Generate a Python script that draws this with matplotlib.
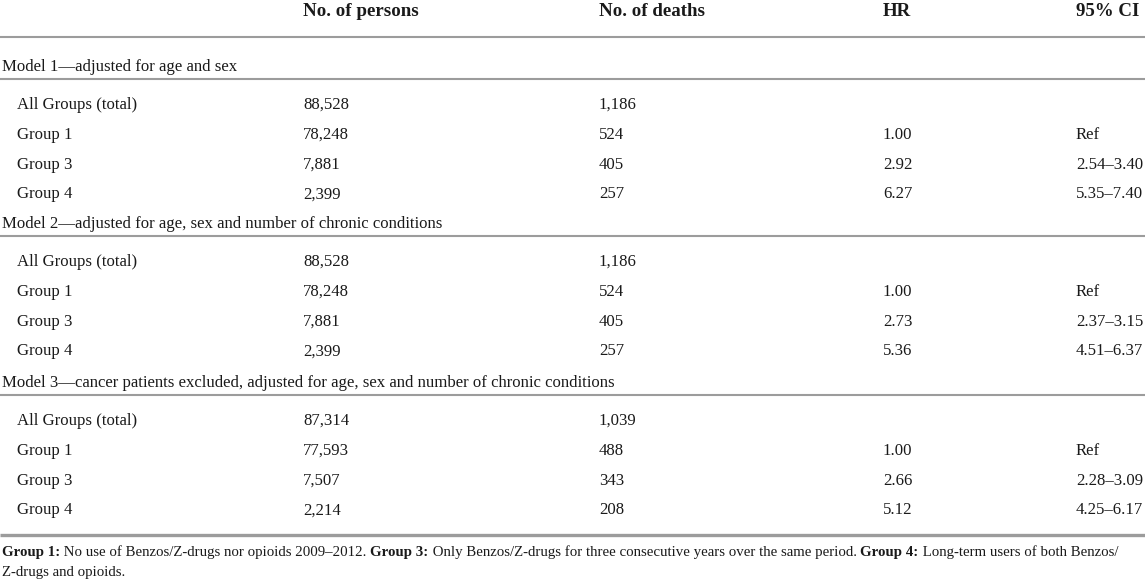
import matplotlib
matplotlib.use("Agg")
import matplotlib.pyplot as plt

# ---- data ----
columns = ["No. of persons", "No. of deaths", "HR", "95% CI"]
model_titles = [
    "Model 1\u2014adjusted for age and sex",
    "Model 2\u2014adjusted for age, sex and number of chronic conditions",
    "Model 3\u2014cancer patients excluded, adjusted for age, sex and number of chronic conditions",
]
row_labels = ["All Groups (total)", "Group 1", "Group 3", "Group 4"]
persons = [
    ["88,528", "78,248", "7,881", "2,399"],
    ["88,528", "78,248", "7,881", "2,399"],
    ["87,314", "77,593", "7,507", "2,214"],
]
deaths = [
    ["1,186", "524", "405", "257"],
    ["1,186", "524", "405", "257"],
    ["1,039", "488", "343", "208"],
]
hr = [
    ["", "1.00", "2.92", "6.27"],
    ["", "1.00", "2.73", "5.36"],
    ["", "1.00", "2.66", "5.12"],
]
ci = [
    ["", "Ref", "2.54\u20133.40", "5.35\u20137.40"],
    ["", "Ref", "2.37\u20133.15", "4.51\u20136.37"],
    ["", "Ref", "2.28\u20133.09", "4.25\u20136.17"],
]
footnote_parts = [
    ("Group 1:", True), (" No use of Benzos/Z-drugs nor opioids 2009\u20132012. ", False),
    ("Group 3:", True), (" Only Benzos/Z-drugs for three consecutive years over the same period. ", False),
    ("Group 4:", True), (" Long-term users of both Benzos/", False),
]
footnote_line2 = "Z-drugs and opioids."

# ---- layout ----
W, H = 1145, 582
fig = plt.figure(figsize=(W / 100, H / 100), dpi=100)
ax = fig.add_axes([0, 0, 1, 1])
ax.set_xlim(0, W)
ax.set_ylim(H, 0)
ax.axis("off")

FAM = ["Liberation Serif", "DejaVu Serif"]
FS = 12.1
HFS = 13.6
col_x = [303, 599, 883, 1076]
line_color = "#9c9c9c"
txt_color = "#1a1a1a"

# header
for x, c in zip(col_x, columns):
    ax.text(x, 16, c, fontsize=HFS, fontweight="bold", family=FAM,
            va="baseline", ha="left", color=txt_color)

def hline(y, lw=1.5):
    ax.plot([0, W], [y, y], color=line_color, lw=lw, solid_capstyle="butt")

hline(37)

title_base = [71.0, 228.5, 387.0]
title_line_y = [79, 236, 395]
row_step = 29.8

for m in range(3):
    ax.text(2, title_base[m], model_titles[m], fontsize=FS, family=FAM,
            va="baseline", ha="left", color=txt_color)
    hline(title_line_y[m])
    for r, lab in enumerate(row_labels):
        y = title_line_y[m] + 30 + r * row_step
        ax.text(17, y, lab, fontsize=FS, family=FAM, va="baseline", ha="left", color=txt_color)
        vals = [persons[m][r], deaths[m][r], hr[m][r], ci[m][r]]
        for x, v in zip(col_x, vals):
            if v:
                ax.text(x, y, v, fontsize=FS, family=FAM, va="baseline", ha="left", color=txt_color)

hline(535, lw=2.4)

# footnote
FFS = 10.7
x = 2
renderer = fig.canvas.get_renderer()
for txt, bold in footnote_parts:
    t = ax.text(x, 556, txt, fontsize=FFS, family=FAM, va="baseline", ha="left",
                fontweight="bold" if bold else "normal", color=txt_color)
    bb = t.get_window_extent(renderer=renderer)
    x += bb.width
ax.text(2, 576, footnote_line2, fontsize=FFS, family=FAM, va="baseline", ha="left", color=txt_color)

fig.savefig("out.png", dpi=100)
